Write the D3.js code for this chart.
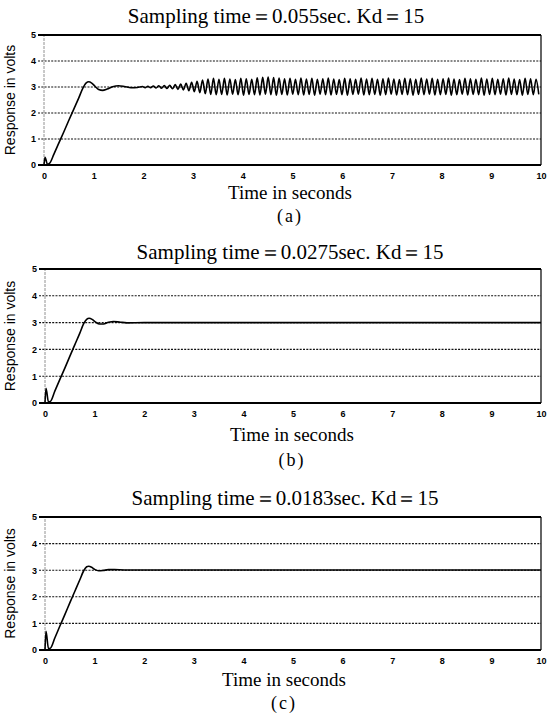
<!DOCTYPE html>
<html>
<head>
<meta charset="utf-8">
<script src="https://cdn.jsdelivr.net/npm/d3@7/dist/d3.min.js"></script>
<style>
  body { margin: 0; background: #fff; }
  .tick text { font-family: "Liberation Sans", Arial, sans-serif; font-weight: bold; font-size: 9px; fill: #000; }
</style>
</head>
<body>
<div id="chart"></div>
<script>
// tick values
const xTicks = [0, 1, 2, 3, 4, 5, 6, 7, 8, 9, 10];
const yTicks = [0, 1, 2, 3, 4, 5];

const titles = [
  "Sampling time\uFF1D0.055sec. Kd\uFF1D15",
  "Sampling  time\uFF1D0.0275sec.  Kd\uFF1D15",
  "Sampling time\uFF1D0.0183sec.  Kd\uFF1D15"
];
const subLabels = ["(a)", "(b)", "(c)"];
const xTitle = "Time in seconds";
const yTitle = "Response in volts";

// (a) transient part
const timeA = [0, 0.02, 0.07, 0.11, 0.2, 0.3, 0.4, 0.5, 0.6, 0.7, 0.78, 0.85, 0.9, 0.96, 1.03, 1.1, 1.18, 1.27, 1.38, 1.5, 1.62, 1.75, 1.88];
const valueA = [0, 0.3, 0.03, 0.06, 0.42, 0.85, 1.28, 1.72, 2.15, 2.58, 2.95, 3.16, 3.2, 3.15, 3.02, 2.9, 2.87, 2.92, 3.01, 3.05, 3.02, 2.97, 2.98];
// (a) sustained oscillation, one value per sampling instant
const oscStartA = 1.98;
const samplingA = 0.055;
const oscValuesA = [
  3.02, 2.97, 3.03, 2.97, 3.04, 2.96, 3.05, 2.95, 3.06, 2.94, 3.07, 2.93, 3.09, 2.91,
  3.11, 2.89, 3.14, 2.86, 3.18, 2.82, 3.22, 2.78, 3.27, 2.74, 3.31, 2.71, 3.33, 2.70,
  3.30, 2.71, 3.33, 2.69, 3.31, 2.72, 3.29, 2.70, 3.33, 2.68, 3.32, 2.71, 3.30, 2.70,
  3.35, 2.69, 3.37, 2.72, 3.38, 2.70, 3.36, 2.68, 3.34, 2.71, 3.32, 2.69, 3.33, 2.72,
  3.30, 2.70, 3.34, 2.69, 3.31, 2.71, 3.33, 2.68, 3.30, 2.72, 3.32, 2.70, 3.34, 2.69,
  3.31, 2.71, 3.29, 2.70, 3.33, 2.68, 3.32, 2.71, 3.30, 2.72, 3.34, 2.69, 3.31, 2.70,
  3.33, 2.71, 3.30, 2.68, 3.32, 2.70, 3.34, 2.72, 3.31, 2.69, 3.29, 2.71, 3.33, 2.70,
  3.32, 2.68, 3.30, 2.71, 3.34, 2.70, 3.31, 2.72, 3.33, 2.69, 3.30, 2.70, 3.32, 2.71,
  3.34, 2.68, 3.31, 2.70, 3.29, 2.72, 3.33, 2.69, 3.32, 2.71, 3.30, 2.70, 3.34, 2.68,
  3.31, 2.71, 3.33, 2.70, 3.30, 2.72, 3.32, 2.69, 3.34, 2.71, 3.31, 2.70, 3.29, 2.68,
  3.33, 2.71, 3.32, 2.70, 3.30, 2.72
];

// (b)
const timeB = [0, 0.02, 0.07, 0.11, 0.2, 0.3, 0.4, 0.5, 0.6, 0.7, 0.78, 0.84, 0.89, 0.95, 1.02, 1.1, 1.18, 1.28, 1.38, 1.5, 1.65, 2, 3, 4, 5, 6, 7, 8, 9, 10];
const valueB = [0, 0.55, 0.04, 0.06, 0.45, 0.88, 1.3, 1.74, 2.17, 2.6, 2.96, 3.12, 3.16, 3.12, 3.02, 2.95, 2.95, 3.01, 3.04, 3.02, 2.99, 3.0, 3.0, 3.0, 3.0, 3.0, 3.0, 3.0, 3.0, 3.0];

// (c)
const timeC = [0, 0.02, 0.07, 0.11, 0.2, 0.3, 0.4, 0.5, 0.6, 0.7, 0.78, 0.84, 0.88, 0.94, 1.0, 1.08, 1.17, 1.28, 1.4, 1.6, 2, 3, 4, 5, 6, 7, 8, 9, 10];
const valueC = [0, 0.7, 0.05, 0.07, 0.46, 0.9, 1.33, 1.77, 2.2, 2.63, 2.98, 3.13, 3.15, 3.11, 3.03, 2.98, 2.99, 3.02, 3.02, 3.01, 3.01, 3.01, 3.01, 3.01, 3.01, 3.01, 3.01, 3.01, 3.01, 3.01];

// build series
const seriesA = timeA.map((t, i) => ({ t: t, v: valueA[i] }))
  .concat(oscValuesA.map((v, i) => ({ t: oscStartA + i * samplingA, v: v })));
const seriesB = timeB.map((t, i) => ({ t: t, v: valueB[i] }));
const seriesC = timeC.map((t, i) => ({ t: t, v: valueC[i] }));

// layout of the three panels
const panels = [
  { data: seriesA, left: 44, right: 541, top: 35, bottom: 165, titleX: 276, titleY: 23, xLabelX: 290, xLabelY: 199, subY: 222 },
  { data: seriesB, left: 45, right: 541, top: 269, bottom: 403, titleX: 290, titleY: 259, xLabelX: 292, xLabelY: 441, subY: 466 },
  { data: seriesC, left: 45, right: 541, top: 517, bottom: 650, titleX: 285, titleY: 505, xLabelX: 284, xLabelY: 686, subY: 709 }
];

const svg = d3.select("#chart")
  .append("svg")
  .attr("width", 548)
  .attr("height", 716);

svg.append("rect")
  .attr("width", 548)
  .attr("height", 716)
  .attr("fill", "#fff");

panels.forEach((p, k) => {
  const x = d3.scaleLinear().domain([0, 10]).range([p.left, p.right]);
  const y = d3.scaleLinear().domain([0, 5]).range([p.bottom, p.top]);

  const g = svg.append("g");

  // title
  g.append("text")
    .attr("x", p.titleX)
    .attr("y", p.titleY)
    .attr("text-anchor", "middle")
    .style("font-family", "'Liberation Serif', 'Times New Roman', serif")
    .style("font-size", "21px")
    .text(titles[k]);

  // dotted grid lines
  g.selectAll(".grid")
    .data(yTicks.filter(d => d > 0 && d < 5))
    .enter()
    .append("line")
    .attr("x1", p.left - 6)
    .attr("x2", p.right)
    .attr("y1", d => y(d))
    .attr("y2", d => y(d))
    .attr("stroke", "#111")
    .attr("stroke-width", 1.1)
    .attr("stroke-dasharray", "2 1.3");

  // left border (light dotted)
  g.append("line")
    .attr("x1", p.left).attr("x2", p.left)
    .attr("y1", y(0)).attr("y2", y(5))
    .attr("stroke", "#777")
    .attr("stroke-width", 0.8)
    .attr("stroke-dasharray", "3 1");

  // right border
  g.append("line")
    .attr("x1", p.right).attr("x2", p.right)
    .attr("y1", y(0)).attr("y2", y(5))
    .attr("stroke", "#111")
    .attr("stroke-width", 1.3);

  // top and bottom borders
  [0, 5].forEach(v => {
    g.append("line")
      .attr("x1", p.left - 6).attr("x2", p.right)
      .attr("y1", y(v)).attr("y2", y(v))
      .attr("stroke", "#000")
      .attr("stroke-width", 2);
  });

  // y axis labels
  const yAxis = g.append("g")
    .attr("transform", `translate(${p.left - 5}, 0)`)
    .call(d3.axisLeft(y).tickValues(yTicks).tickFormat(d3.format("d")).tickSize(0).tickPadding(3));
  yAxis.select(".domain").remove();

  // x axis labels
  const xAxis = g.append("g")
    .attr("transform", `translate(0, ${p.bottom})`)
    .call(d3.axisBottom(x).tickValues(xTicks).tickFormat(d3.format("d")).tickSize(0).tickPadding(8));
  xAxis.select(".domain").remove();

  // response curve
  const line = d3.line()
    .x(d => x(d.t))
    .y(d => y(d.v))
    .curve(d3.curveMonotoneX);

  g.append("path")
    .datum(p.data)
    .attr("fill", "none")
    .attr("stroke", "#000")
    .attr("stroke-width", 1.6)
    .attr("stroke-linejoin", "round")
    .attr("d", line);

  // y title
  g.append("text")
    .attr("transform", `translate(15, ${(p.top + p.bottom) / 2}) rotate(-90)`)
    .attr("text-anchor", "middle")
    .style("font-family", "'Liberation Sans', Arial, sans-serif")
    .style("font-size", "14px")
    .text(yTitle);

  // x title
  g.append("text")
    .attr("x", p.xLabelX)
    .attr("y", p.xLabelY)
    .attr("text-anchor", "middle")
    .style("font-family", "'Liberation Serif', 'Times New Roman', serif")
    .style("font-size", "19px")
    .text(xTitle);

  // panel letter
  g.append("text")
    .attr("x", p.xLabelX)
    .attr("y", p.subY)
    .attr("text-anchor", "middle")
    .style("font-family", "'Liberation Serif', 'Times New Roman', serif")
    .style("font-size", "18px")
    .style("letter-spacing", "2px")
    .text(subLabels[k]);
});
</script>
</body>
</html>
